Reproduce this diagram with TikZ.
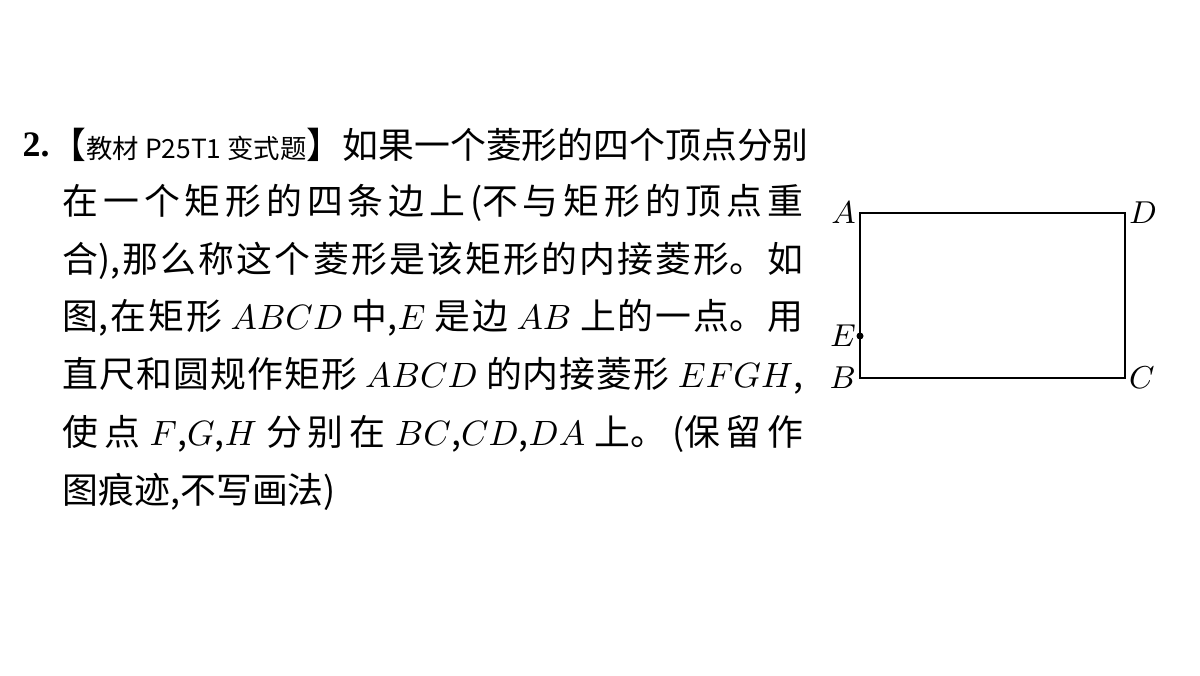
\documentclass[tikz,border=0pt]{standalone}
\usepackage{fontspec}
\newfontfamily\cjk{Noto Sans CJK SC}
\XeTeXlinebreaklocale "zh"
\begin{document}
\begin{tikzpicture}
    [%%%%%%%%%%%%%%%%%%%%%%%%%%%%%%
        x=0.01cm, y=-0.01cm,
        line/.style={anchor=west, inner sep=0pt, font=\cjk\fontsize{10.2}{12}\selectfont},
        full/.style={line, text width=#1, align=justify,
            execute at begin node={\XeTeXlinebreakskip=0pt plus 4pt\parfillskip=0pt}},
        lab/.style={inner sep=1pt, font=\fontsize{9}{10}\selectfont},
    ]%%%%%%%%%%%%%%%%%%%%%%%%%%%%%%
\useasboundingbox (0,0) rectangle (1200,675);
\node[line] (num) at (22,145) {\bfseries\fontspec{Liberation Serif}2.};
\node[line] (l1) at (50,145) {【{\fontsize{7.5}{9}\selectfont 教材 P25T1 变式题}】如果一个菱形的四个顶点分别};
\node[full=7.4cm] (l2) at (62,203) {在一个矩形的四条边上(不与矩形的顶点重};
\node[full=7.4cm] (l3) at (62,261) {合),那么称这个菱形是该矩形的内接菱形。如};
\node[full=7.4cm] (l4) at (62,318) {图,在矩形 $ABCD$ 中,$E$ 是边 $AB$ 上的一点。用};
\node[full=7.4cm] (l5) at (62,376) {直尺和圆规作矩形 $ABCD$ 的内接菱形 $EFGH$,};
\node[full=7.4cm] (l6) at (62,434) {使点 $F$,$G$,$H$ 分别在 $BC$,$CD$,$DA$ 上。(保留作};
\node[line] (l7) at (62,492) {图痕迹,不写画法)};

\coordinate (A) at (860,213);
\coordinate (D) at (1125,213);
\coordinate (C) at (1125,378);
\coordinate (B) at (860,378);
\coordinate (E) at (860,336);
\draw[thick] (A) -- (D) -- (C) -- (B) -- cycle;
\fill (E) circle (3.5);
\node[lab, anchor=east] at (A) {$A$};
\node[lab, anchor=west] at (D) {$D$};
\node[lab, anchor=west] at (C) {$C$};
\node[lab, anchor=east] at (B) {$B$};
\node[lab, anchor=east] at (E) {$E$};
\end{tikzpicture}
\end{document}
